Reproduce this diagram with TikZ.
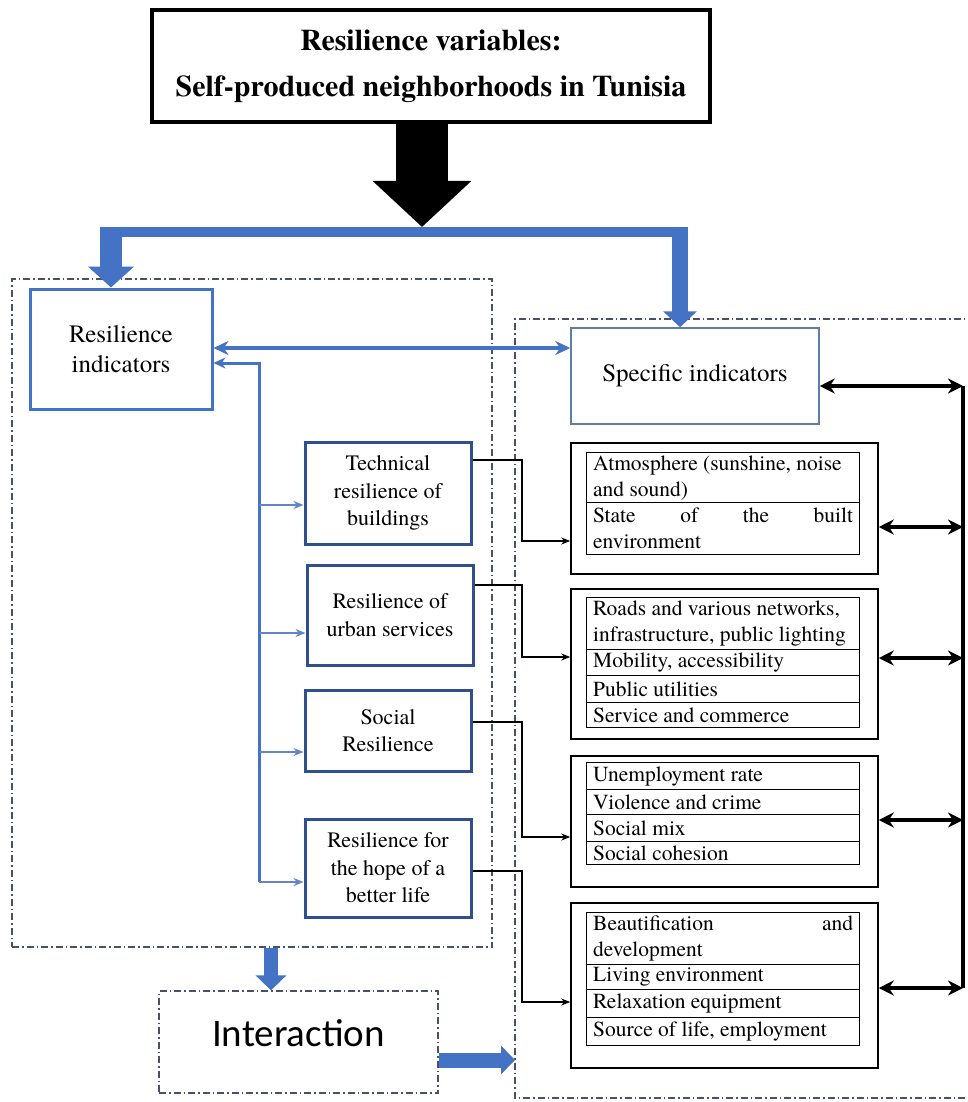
\documentclass[tikz,border=0pt]{standalone}
\usepackage{fontspec}
\setmainfont{texgyretermes}[Extension=.otf, UprightFont=*-regular, BoldFont=*-bold, ItalicFont=*-italic, BoldItalicFont=*-bolditalic]
\newfontfamily\calibrifont{Carlito}
\usetikzlibrary{arrows.meta}

\definecolor{officeblue}{HTML}{4472C4}
\definecolor{navyblue}{HTML}{2F4F8F}
\definecolor{branchblue}{HTML}{6384C8}
\definecolor{panelgray}{HTML}{4A5068}
\definecolor{sigray}{HTML}{5E7EA8}

\tikzset{
	panel/.style={draw=panelgray, line width=1.3pt, dash pattern=on 7pt off 3pt on 1.5pt off 3pt},
	titlebox/.style={draw, line width=3.5pt, minimum width=558pt, minimum height=112pt, align=center, font=\bfseries\fontsize{30}{46}\selectfont},
	indbox/.style={draw=officeblue, line width=3pt, align=center, font=\fontsize{25}{30}\selectfont},
	bluebox/.style={draw=navyblue, line width=3pt, minimum width=166pt, align=center, font=\fontsize{22}{27.5}\selectfont},
	groupbox/.style={draw, line width=1.5pt, minimum width=307pt},
	cell/.style={draw, line width=1.3pt, anchor=north west, text width=260pt, inner xsep=6.5pt, inner ysep=0pt, align=justify, font=\fontsize{21.5}{26}\selectfont},
	link/.style={line width=1.3pt, -{Stealth[length=9pt,width=7pt]}},
	dbllink/.style={line width=3.5pt, {Stealth[length=15pt,width=15pt]}-{Stealth[length=15pt,width=15pt]}},
	trunk/.style={officeblue, line width=3pt, {Stealth[length=12pt,width=11pt]}-},
	branch/.style={branchblue, line width=1.8pt, -{Stealth[length=10pt,width=8pt]}},
	bluelink/.style={officeblue, line width=4pt, {Stealth[length=15pt,width=14pt]}-{Stealth[length=15pt,width=14pt]}},
}

\begin{document}
\begin{tikzpicture}[x=1pt,y=-1pt]
	\useasboundingbox (0,0) rectangle (968,1102);
	% frames
	\node[panel, minimum width=480pt, minimum height=668pt] (lp) at (252,613) {};
	\coordinate (rp) at (515,319);
	\draw[panel] (975,319) -- (rp) -- (515,1098) -- (975,1098);

	\node[titlebox] (title) at (431,66) {Resilience variables:\\Self-produced neighborhoods in Tunisia};
	\node[indbox, minimum width=182pt, minimum height=120pt] (ri) at (121,349) {Resilience\\indicators};
	\node[draw=sigray, line width=1.5pt, minimum width=248pt, minimum height=96pt, font=\fontsize{25}{30}\selectfont] (si) at (695,376) {Specific indicators};

	\node[bluebox, minimum height=102pt] (tb) at (388,493) {Technical\\resilience of\\buildings};
	\node[bluebox, minimum height=100pt] (us) at (390,615) {Resilience of\\urban services};
	\node[bluebox, minimum height=81pt] (sr) at (388,730.5) {Social\\Resilience};
	\node[bluebox, minimum height=98pt] (hl) at (388,868) {Resilience for\\the hope of a\\better life};

	\node[panel, minimum width=279pt, minimum height=102pt, text depth=18pt, font=\calibrifont\fontsize{39}{44}\selectfont] (inter) at (298.5,1042) {Interaction};

	% indicator groups
	\node[groupbox, minimum height=131pt] (g1) at (724.5,508.5) {};
	\node[groupbox, minimum height=150pt] (g2) at (724.5,664) {};
	\node[groupbox, minimum height=131pt] (g3) at (724.5,821.5) {};
	\node[groupbox, minimum height=165pt] (g4) at (724.5,985.5) {};

	\foreach \Y/\H/\T [count=\Z] in {452/50/{Atmosphere (sunshine, noise\newline and sound)}, 502/52/{State of the built\linebreak environment}}
	{\node[cell, minimum height=\H pt] (ga\Z) at (586,\Y) {\T};}
	\foreach \Y/\H/\T [count=\Z] in {597/52/{Roads and various networks,\newline infrastructure, public lighting}, 649/26/{Mobility, accessibility}, 675/27/{Public utilities}, 702/25/{Service and commerce}}
	{\node[cell, minimum height=\H pt] (gb\Z) at (586,\Y) {\T};}
	\foreach \Y/\H/\T [count=\Z] in {762/27/{Unemployment rate}, 789/25/{Violence and crime}, 814/27/{Social mix}, 841/23/{Social cohesion}}
	{\node[cell, minimum height=\H pt] (gc\Z) at (586,\Y) {\T};}
	\foreach \Y/\H/\T [count=\Z] in {912/52/{Beautification and\linebreak development}, 964/25/{Living environment}, 989/28/{Relaxation equipment}, 1017/28/{Source of life, employment}}
	{\node[cell, minimum height=\H pt] (gd\Z) at (586,\Y) {\T};}

	% blue arrows from the title
	\draw[line width=52pt, -{Triangle[length=46pt,width=96pt]}] (title.south -| 422,0) -- (422,227);
	\draw[officeblue, line width=10pt] (100,232) -- (688,232);
	\draw[officeblue, line width=22pt, -{Triangle[length=21pt,width=45pt]}] (111,227) -- (ri.north -| 111,0);
	\draw[officeblue, line width=16pt, -{Triangle[length=16pt,width=33pt]}] (680,227) -- (si.north -| 680,0);

	\draw[bluelink] (ri.east |- 0,348) -- (si.west |- 0,348);
	\coordinate (trunk) at (259,363);
	\draw[trunk] (ri.east |- trunk) -| (trunk |- 0,882);
	\foreach \N/\Y in {tb/505, us/633, sr/752, hl/882}
	{\draw[branch] (trunk |- 0,\Y) -- (\N.west |- 0,\Y);}

	% links to the groups
	\draw[link] (tb.east |- 0,460) -| (522,541) -- (g1.west |- 0,541);
	\draw[link] (us.east |- 0,585) -| (522,657) -- (g2.west |- 0,657);
	\draw[link] (sr.east |- 0,722) -| (522,837) -- (g3.west |- 0,837);
	\draw[link] (hl.east |- 0,871) -| (522,1002) -- (g4.west |- 0,1002);

	% right spine
	\coordinate (r0) at (963,386);
	\coordinate (r1) at (963,527);
	\coordinate (r2) at (963,658);
	\coordinate (r3) at (963,820);
	\coordinate (r4) at (963,988);
	\draw[line width=3.5pt] (r0) -- (r4);
	\draw[dbllink] (si.east |- r0) -- (r0);
	\draw[dbllink] (g1.east |- r1) -- (r1);
	\draw[dbllink] (g2.east |- r2) -- (r2);
	\draw[dbllink] (g3.east |- r3) -- (r3);
	\draw[dbllink] (g4.east |- r4) -- (r4);

	% towards interaction
	\draw[officeblue, line width=14pt, -{Triangle[length=15pt,width=30pt]}] (lp.south -| 271,0) -- (inter.north -| 271,0);
	\draw[officeblue, line width=15pt, -{Triangle[length=14pt,width=28pt]}] (inter.east |- 0,1060) -- (rp |- 0,1060);
\end{tikzpicture}
\end{document}
